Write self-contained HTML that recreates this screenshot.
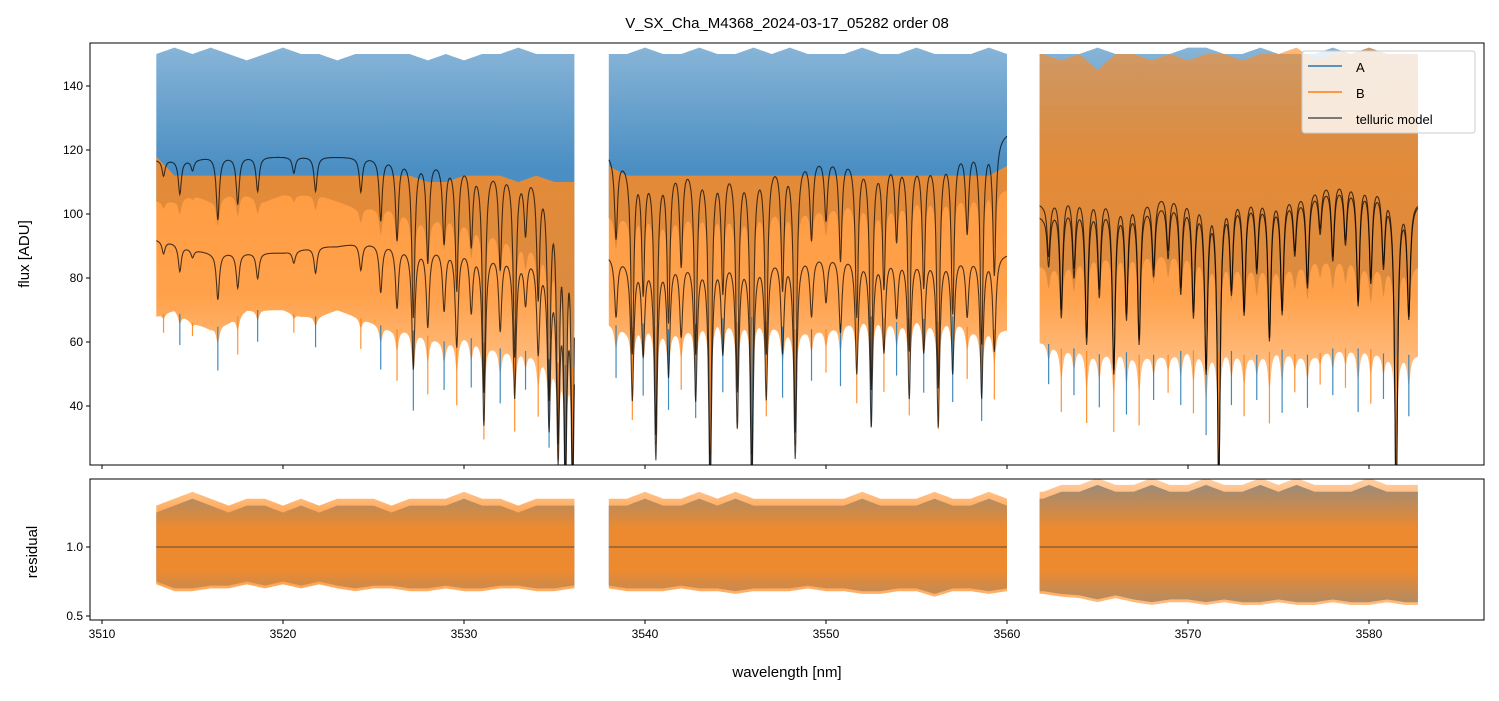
<!DOCTYPE html>
<html><head><meta charset="utf-8"><style>
body{margin:0;background:#fff;}
svg text{font-family:"Liberation Sans","DejaVu Sans",sans-serif;}
</style></head><body>
<svg id="chart" width="1499" height="696" xmlns="http://www.w3.org/2000/svg">
<rect width="1499" height="696" fill="#fff"/>
<defs>
<clipPath id="clipTop"><rect x="90" y="43" width="1394" height="422"/></clipPath>
<clipPath id="clipBot"><rect x="90" y="479" width="1394" height="141"/></clipPath>
<linearGradient id="gA" gradientUnits="userSpaceOnUse" x1="0" y1="43" x2="0" y2="465">
<stop offset="0" stop-color="#2a7ab8" stop-opacity="0.55"/>
<stop offset="0.3" stop-color="#2a7ab8" stop-opacity="0.85"/>
<stop offset="1" stop-color="#2a7ab8" stop-opacity="0.85"/>
</linearGradient>
<linearGradient id="gB" gradientUnits="userSpaceOnUse" x1="0" y1="43" x2="0" y2="465">
<stop offset="0" stop-color="#ff8a1f" stop-opacity="0.6"/>
<stop offset="0.3" stop-color="#ff8a1f" stop-opacity="0.85"/>
<stop offset="0.6" stop-color="#ff8a1f" stop-opacity="0.8"/>
<stop offset="0.85" stop-color="#ff8a1f" stop-opacity="0.45"/>
<stop offset="1" stop-color="#ff8a1f" stop-opacity="0.3"/>
</linearGradient>
<linearGradient id="gR" gradientUnits="userSpaceOnUse" x1="0" y1="479" x2="0" y2="620">
<stop offset="0" stop-color="#ff8a1f" stop-opacity="0.4"/>
<stop offset="0.35" stop-color="#ff8a1f" stop-opacity="0.9"/>
<stop offset="0.65" stop-color="#ff8a1f" stop-opacity="0.9"/>
<stop offset="1" stop-color="#ff8a1f" stop-opacity="0.4"/>
</linearGradient>
</defs>
<g id="topPanel" clip-path="url(#clipTop)"></g>
<g id="botPanel" clip-path="url(#clipBot)"></g>
<g id="axes"></g>
<text x="787" y="28" font-size="15" text-anchor="middle">V_SX_Cha_M4368_2024-03-17_05282  order 08</text>
<text transform="translate(29,254) rotate(-90)" font-size="15" text-anchor="middle">flux [ADU]</text>
<text transform="translate(37,552) rotate(-90)" font-size="15" text-anchor="middle">residual</text>
<text x="787" y="677" font-size="15" text-anchor="middle">wavelength [nm]</text>
<g id="legendG">
<rect x="1302" y="51" width="173" height="82" rx="3" fill="#fff" fill-opacity="0.8" stroke="#ccc"/>
<line x1="1308" y1="66" x2="1342" y2="66" stroke="#1f77b4" stroke-width="1.6"/>
<text x="1356" y="72" font-size="13">A</text>
<line x1="1308" y1="92" x2="1342" y2="92" stroke="#ff7f0e" stroke-width="1.6"/>
<text x="1356" y="98" font-size="13">B</text>
<line x1="1308" y1="118" x2="1342" y2="118" stroke="#555" stroke-width="1.6"/>
<text x="1356" y="124" font-size="13">telluric model</text>
</g>
</svg>
<script>
const binStart = 3513;
const segments = [[3513.0, 3536.1], [3538.0, 3560.0], [3561.8, 3582.7]];
const upperA = [150,152,150,152,150,148,150,152,150,150,148,150,150,150,150,148,150,148,150,150,152,150,150,150, null, 150,150,152,150,150,152,150,150,152,150,152,150,150,150,152,150,150,152,150,150,150,152,150, null, 150,150,150,152,150,150,150,150,152,152,150,150,152,150,150,150,152,150,152,150,150,150];
const lowerA = [104,104,106,104,106,106,104,106,106,106,104,102,102,102,100,98,100,98,96,94,92,90,88,85, null, 100,100,102,100,100,102,102,100,102,102,102,102,102,104,104,102,104,106,106,106,106,108,108, null, 84,84,86,88,88,88,88,88,88,86,86,84,84,84,84,86,86,86,84,84,84,84];
const upperB = [118,112,112,112,112,112,112,112,112,112,112,112,112,112,112,110,110,112,112,112,110,112,110,110, null, 115,112,112,112,112,112,112,112,112,112,112,112,112,112,112,112,112,112,112,112,112,112,115, null, 150,148,150,145,150,150,148,150,148,150,150,148,150,150,152,148,150,150,152,150,150,150];
const lowerB = [68,70,66,64,66,70,70,70,68,68,70,68,66,64,64,62,60,62,60,58,58,56,54,52, null, 66,64,66,64,64,66,68,66,68,66,64,64,64,66,68,68,66,68,66,68,64,64,64, null, 60,58,58,56,58,56,56,56,58,56,58,56,56,58,56,56,58,58,58,56,56,56];
const contA = [117,117,117,118,118,118,118,118,118,118,118,118,118,118,118,118,117,117,116,116,115,115,114,113, null, 120,118,117,117,118,118,118,118,118,118,119,119,119,119,119,119,119,119,120,121,122,124,126, null, 104,108,108,108,107,107,107,108,108,108,108,108,108,108,108,110,112,112,112,110,106,104];
const contB = [92,91,89,88,88,88,88,88,89,90,90,91,91,91,90,90,90,90,89,89,88,88,87,86, null, 88,87,87,87,87,87,88,88,88,88,88,88,88,88,88,88,88,88,88,88,88,88,88, null, 100,104,104,104,104,104,104,105,105,105,106,106,106,106,106,108,110,110,110,108,104,104];
const dipWl = [3513.4,3514.3,3515.0,3516.4,3517.5,3518.6,3520.6,3521.8,3524.3,3525.4,3526.3,3527.2,3528.0,3528.9,3529.6,3530.4,3531.1,3532.0,3532.8,3533.4,3534.1,3534.7,3535.2,3535.6,3536.0,
 3538.4,3539.3,3539.9,3540.6,3541.3,3542.0,3542.8,3543.6,3544.3,3545.1,3545.9,3546.7,3547.6,3548.3,3549.2,3550.0,3550.8,3551.7,3552.5,3553.2,3553.9,3554.6,3555.4,3556.2,3557.0,3557.8,3558.6,3559.3,
 3562.3,3563.0,3563.7,3564.4,3565.1,3565.9,3566.6,3567.3,3568.1,3568.9,3569.6,3570.3,3571.0,3571.7,3572.4,3573.1,3573.8,3574.5,3575.2,3575.9,3576.6,3577.3,3578.0,3578.7,3579.4,3580.1,3580.8,3581.5,3582.2];
const dipDepth = [0.35,0.45,0.3,0.55,0.5,0.45,0.35,0.45,0.45,0.55,0.6,0.75,0.65,0.6,0.7,0.6,0.85,0.65,0.8,0.55,0.7,0.85,0.9,0.95,0.95,
 0.6,0.8,0.7,0.9,0.75,0.65,0.8,0.95,0.7,0.85,0.95,0.8,0.7,0.9,0.6,0.55,0.65,0.75,0.85,0.7,0.6,0.8,0.7,0.85,0.75,0.6,0.8,0.7,
 0.55,0.7,0.6,0.75,0.65,0.8,0.7,0.75,0.6,0.55,0.65,0.7,0.8,0.95,0.65,0.7,0.6,0.75,0.7,0.55,0.65,0.5,0.6,0.55,0.7,0.65,0.6,0.97,0.7];
const resUpper = [1.25,1.3,1.35,1.3,1.25,1.3,1.3,1.25,1.3,1.25,1.3,1.3,1.3,1.25,1.3,1.3,1.3,1.35,1.3,1.3,1.25,1.3,1.3,1.3, null, 1.3,1.3,1.35,1.3,1.3,1.35,1.3,1.35,1.3,1.3,1.3,1.3,1.3,1.3,1.35,1.3,1.3,1.3,1.35,1.3,1.3,1.35,1.3, null, 1.35,1.4,1.4,1.45,1.4,1.4,1.45,1.4,1.4,1.45,1.4,1.4,1.45,1.4,1.45,1.4,1.4,1.4,1.45,1.4,1.4,1.4];
const resLower = [0.75,0.7,0.7,0.72,0.72,0.75,0.72,0.75,0.72,0.75,0.72,0.7,0.72,0.72,0.7,0.7,0.72,0.7,0.7,0.72,0.72,0.7,0.7,0.72, null, 0.72,0.7,0.7,0.7,0.72,0.7,0.7,0.68,0.7,0.7,0.7,0.72,0.7,0.7,0.68,0.68,0.7,0.7,0.66,0.7,0.7,0.68,0.7, null, 0.68,0.66,0.65,0.62,0.65,0.62,0.6,0.62,0.62,0.6,0.62,0.6,0.6,0.62,0.6,0.6,0.62,0.6,0.6,0.62,0.6,0.6];
const yTicksTop = [40,60,80,100,120,140];
const yTicksBot = [0.5,1.0];
const xTicks = [3510,3520,3530,3540,3550,3560,3570,3580];

const NS="http://www.w3.org/2000/svg";
const xS = w => 102 + (w-3510)*18.1;
const yT = v => 150 + (120-v)*3.2;
const yB = v => 547 - (v-1.0)*138;
function mk(tag, attrs, parent){const e=document.createElementNS(NS,tag);for(const k in attrs)e.setAttribute(k,attrs[k]);parent.appendChild(e);return e;}
function binVal(arr,w){const f=w-binStart;const i=Math.max(0,Math.min(arr.length-1,Math.floor(f)));let j=Math.min(arr.length-1,i+1);let a=arr[i],b=arr[j];if(a==null)a=b;if(b==null)b=a;const t=Math.max(0,Math.min(1,f-i));return a+(b-a)*t;}
function dipFactor(w){let f=1;for(let i=0;i<dipWl.length;i++){const d=(w-dipWl[i])/0.1;const s=Math.pow(dipDepth[i],3);f*=1-s/(1+d*d);}return f;}
const topG=document.getElementById('topPanel'), botG=document.getElementById('botPanel'), axesG=document.getElementById('axes');

function band(up,lo,yf,fill,parent,name,withDips){
  segments.forEach(s=>{
    let ptsU=[],ptsL=[];
    for(let w=s[0];w<=s[1]+1e-6;w+=0.05){
      ptsU.push(xS(w).toFixed(1)+','+yf(binVal(up,w)).toFixed(1));
      let lv=binVal(lo,w); if(withDips) lv=lv*Math.min(1,0.5+0.5*dipFactor(w));
      ptsL.push(xS(w).toFixed(1)+','+yf(lv).toFixed(1));
    }
    const p=mk('polygon',{points:ptsU.concat(ptsL.reverse()).join(' '),fill:fill},parent);
    
    
  });
}
band(upperA,lowerA,yT,'url(#gA)',topG,'series-a',true);
band(upperB,lowerB,yT,'url(#gB)',topG,'series-b',true);
dipWl.forEach((w,i)=>{
  const base=binVal(lowerB,w);
  const lo=base*(1-dipDepth[i]*dipDepth[i]*0.7);
  const l=mk('line',{x1:xS(w),x2:xS(w),y1:yT(base),y2:yT(lo),stroke:i%2?'#1f77b4':'#ff7f0e','stroke-width':1.2,'stroke-opacity':0.85},topG);
  
  
});
[[contA,'telluric-model-a'],[contB,'telluric-model-b']].forEach(([c,name])=>{
  segments.forEach(s=>{
    let pts=[];
    for(let w=s[0];w<=s[1]+1e-6;w+=0.02){pts.push(xS(w).toFixed(1)+','+yT(binVal(c,w)*dipFactor(w)).toFixed(1));}
    const p=mk('polyline',{points:pts.join(' '),fill:'none',stroke:'#000','stroke-opacity':0.7,'stroke-width':1.1},topG);
    
    
  });
});
band(resUpper,resLower,yB,'#4a8cc0',botG,'residual-a',false);
band(resUpper.map(v=>v==null?null:v+0.05),resLower.map(v=>v==null?null:v-0.02),yB,'url(#gR)',botG,'residual-b',false);
segments.forEach(s=>{
  const l=mk('line',{x1:xS(s[0]),x2:xS(s[1]),y1:yB(1),y2:yB(1),stroke:'#333','stroke-width':0.8},botG);
  
  
});
[[43,465,'flux-axes-frame'],[479,620,'residual-axes-frame']].forEach(([y0,y1,n])=>{
  const r=mk('rect',{x:90,y:y0,width:1394,height:y1-y0,fill:'none',stroke:'#000','stroke-width':1},axesG);
  
  
});
xTicks.forEach(t=>{
  const x=xS(t);
  mk('line',{x1:x,x2:x,y1:465,y2:469,stroke:'#000'},axesG);
  mk('line',{x1:x,x2:x,y1:620,y2:624,stroke:'#000'},axesG);
  const tx=mk('text',{x:x,y:638,'font-size':12,'text-anchor':'middle'},axesG);
  tx.textContent=t;
  
  
});
yTicksTop.forEach(t=>{
  const y=yT(t);
  mk('line',{x1:86,x2:90,y1:y,y2:y,stroke:'#000'},axesG);
  const tx=mk('text',{x:83,y:y+4,'font-size':12,'text-anchor':'end'},axesG);
  tx.textContent=t;
  
  
});
yTicksBot.forEach(t=>{
  const y=yB(t);
  mk('line',{x1:86,x2:90,y1:y,y2:y,stroke:'#000'},axesG);
  const tx=mk('text',{x:83,y:y+4,'font-size':12,'text-anchor':'end'},axesG);
  tx.textContent=t.toFixed(1);
  
  
});
document.getElementById('chart').appendChild(document.getElementById('legendG'));
</script>
</body></html>
